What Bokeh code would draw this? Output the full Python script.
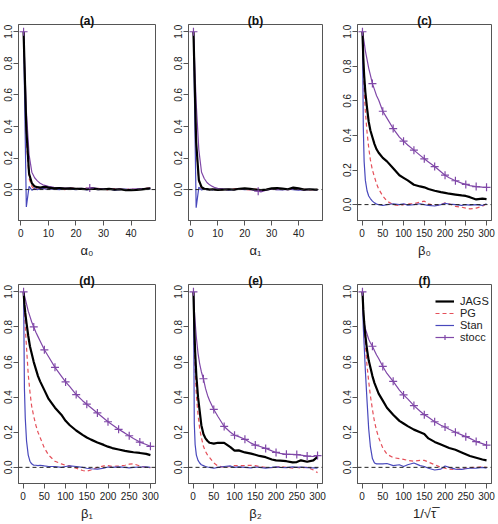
from bokeh.plotting import figure
from bokeh.layouts import column, row
from bokeh.models import Range1d, FixedTicker, Span, Legend, LegendItem, PrintfTickFormatter
from bokeh.embed import file_html
from bokeh.resources import INLINE

# ---- autocorrelation estimates by lag ----
LAGS_AB = [1, 2, 3, 4, 5, 6, 7, 8, 9, 10, 12, 14, 16, 18, 20, 22, 24, 25, 26, 28,
           30, 32, 34, 36, 38, 40, 42, 44, 46, 47]
LAGS_CF = [1, 3, 5, 8, 12, 16, 20, 25, 30, 35, 40, 50, 60, 75, 90, 100, 110, 125,
           140, 150, 160, 175, 190, 200, 210, 225, 240, 250, 260, 275, 290, 300]

a_jags = [1.0, 0.38, 0.10, 0.04, 0.02, 0.015, 0.012, 0.015, 0.017, 0.012, 0.008, 0.01, 0.006, 0.008, 0.004,
          0.005, 0.002, 0.004, 0.006, 0.003, 0.002, 0.004, 0.0, 0.002, -0.003, -0.004, -0.002, 0.001, 0.006, 0.008]
a_pg = [1.0, 0.32, 0.07, 0.02, 0.0, 0.012, 0.008, 0.005, 0.01, 0.004, 0.012, 0.006, 0.0, 0.01, 0.008,
        0.003, 0.009, 0.006, 0.002, 0.007, 0.004, -0.003, 0.006, 0.002, 0.0, 0.004, -0.002, 0.005, 0.01, 0.008]
a_stan = [1.0, -0.11, 0.02, -0.004, 0.006, 0.0, 0.004, 0.008, 0.002, 0.005, 0.003, 0.0, 0.006, 0.002, 0.0,
          0.004, -0.002, 0.003, 0.005, 0.0, 0.002, 0.004, -0.003, 0.0, 0.003, -0.005, 0.0, 0.004, 0.002, 0.005]
a_stocc = [1.0, 0.50, 0.22, 0.11, 0.075, 0.055, 0.04, 0.03, 0.025, 0.02, 0.014, 0.012, 0.01, 0.009, 0.006,
           0.008, 0.004, 0.01, 0.012, 0.006, 0.004, 0.006, 0.002, 0.004, 0.0, 0.003, 0.005, 0.004, 0.008, 0.01]

b_jags = [1.0, 0.30, 0.06, 0.015, 0.005, 0.003, 0.0, 0.002, 0.0, -0.002, 0.0, 0.002, 0.0, 0.005, 0.008,
          0.004, 0.0, -0.002, -0.004, 0.0, 0.008, 0.01, 0.006, 0.002, 0.012, 0.008, 0.0, 0.002, 0.0, 0.0]
b_pg = [1.0, 0.28, 0.05, 0.01, 0.0, 0.004, -0.002, 0.003, 0.0, 0.002, -0.003, 0.0, 0.004, 0.006, 0.0,
        -0.002, 0.003, 0.0, -0.003, 0.002, 0.006, 0.004, 0.0, 0.005, 0.003, 0.0, 0.002, -0.002, 0.0, 0.001]
b_stan = [1.0, -0.115, 0.015, -0.003, 0.004, 0.0, 0.002, -0.002, 0.003, 0.0, 0.002, -0.003, 0.0, 0.002, 0.0,
          0.003, -0.002, 0.0, -0.004, 0.0, 0.003, 0.0, -0.002, 0.002, 0.0, -0.003, 0.0, 0.002, 0.0, -0.002]
b_stocc = [1.0, 0.55, 0.25, 0.11, 0.07, 0.045, 0.03, 0.02, 0.012, 0.008, 0.004, 0.002, 0.0, 0.003, 0.004,
           0.0, -0.006, -0.01, -0.015, -0.004, 0.002, 0.0, 0.003, -0.002, 0.005, 0.002, -0.003, 0.0, 0.0, 0.0]

c_jags = [1.0, 0.85, 0.75, 0.65, 0.56, 0.48, 0.43, 0.39, 0.35, 0.32, 0.30, 0.27, 0.25, 0.21, 0.17, 0.155,
          0.14, 0.115, 0.105, 0.10, 0.09, 0.08, 0.072, 0.068, 0.063, 0.058, 0.053, 0.05, 0.043, 0.03, 0.035, 0.032]
c_pg = [1.0, 0.80, 0.66, 0.54, 0.42, 0.33, 0.26, 0.20, 0.16, 0.12, 0.09, 0.05, 0.02, 0.0, -0.005, 0.0,
        0.005, 0.005, 0.015, 0.02, 0.005, -0.005, 0.0, 0.01, 0.005, -0.01, -0.015, -0.02, -0.025, -0.02, -0.01, 0.005]
c_stan = [1.0, 0.45, 0.25, 0.14, 0.08, 0.05, 0.035, 0.02, 0.01, 0.003, 0.0, -0.005, 0.0, 0.005, 0.0, 0.005,
          -0.003, 0.0, 0.005, 0.0, -0.005, -0.008, 0.0, 0.008, 0.003, 0.0, -0.005, 0.0, -0.003, 0.0, -0.005, 0.005]
c_stocc = [1.0, 0.97, 0.94, 0.89, 0.84, 0.79, 0.75, 0.70, 0.665, 0.63, 0.605, 0.54, 0.50, 0.44, 0.39, 0.367,
           0.345, 0.315, 0.285, 0.265, 0.247, 0.22, 0.19, 0.17, 0.155, 0.138, 0.124, 0.117, 0.11, 0.104, 0.101, 0.10]

d_jags = [1.0, 0.93, 0.88, 0.82, 0.75, 0.69, 0.65, 0.60, 0.56, 0.52, 0.49, 0.44, 0.39, 0.34, 0.30, 0.265,
          0.24, 0.21, 0.185, 0.17, 0.158, 0.142, 0.128, 0.118, 0.11, 0.102, 0.094, 0.09, 0.086, 0.082, 0.077, 0.07]
d_pg = [1.0, 0.9, 0.8, 0.68, 0.53, 0.43, 0.35, 0.29, 0.24, 0.20, 0.17, 0.11, 0.07, 0.035, 0.02, 0.012,
        0.008, -0.005, -0.018, -0.022, -0.015, 0.0, 0.008, 0.01, 0.005, 0.008, 0.012, 0.018, 0.02, 0.008, 0.0, -0.002]
d_stan = [1.0, 0.45, 0.28, 0.15, 0.07, 0.035, 0.02, 0.012, 0.012, 0.01, 0.012, 0.008, 0.005, 0.005, 0.0, 0.005,
          0.008, 0.005, 0.0, -0.005, -0.008, -0.01, -0.005, 0.002, 0.0, 0.003, 0.0, -0.003, 0.0, 0.002, 0.003, 0.0]
d_stocc = [1.0, 0.98, 0.96, 0.93, 0.89, 0.86, 0.83, 0.80, 0.77, 0.745, 0.72, 0.67, 0.63, 0.57, 0.52, 0.487,
           0.46, 0.415, 0.38, 0.36, 0.34, 0.31, 0.28, 0.26, 0.243, 0.217, 0.195, 0.18, 0.165, 0.144, 0.13, 0.12]

e_jags = [1.0, 0.8, 0.66, 0.52, 0.40, 0.32, 0.24, 0.19, 0.165, 0.15, 0.14, 0.135, 0.14, 0.14, 0.115, 0.095,
          0.097, 0.085, 0.078, 0.072, 0.065, 0.058, 0.045, 0.04, 0.038, 0.035, 0.028, 0.03, 0.04, 0.032, 0.04, 0.06]
e_pg = [1.0, 0.7, 0.55, 0.41, 0.30, 0.22, 0.17, 0.12, 0.09, 0.07, 0.055, 0.025, 0.008, 0.0, 0.005, 0.01,
        0.01, 0.01, 0.012, 0.01, 0.005, 0.0, -0.002, 0.0, 0.005, 0.0, -0.005, 0.0, -0.003, 0.0, -0.015, -0.03]
e_stan = [1.0, 0.25, 0.13, 0.07, 0.04, 0.025, 0.015, 0.01, 0.005, 0.002, 0.0, -0.005, 0.0, 0.005, 0.008, 0.0,
          0.003, 0.0, -0.003, 0.002, 0.0, -0.004, 0.0, 0.003, 0.0, -0.002, 0.003, 0.0, 0.002, -0.002, -0.003, -0.004]
e_stocc = [1.0, 0.9, 0.83, 0.74, 0.65, 0.59, 0.545, 0.505, 0.45, 0.41, 0.38, 0.33, 0.29, 0.233, 0.20, 0.183,
           0.175, 0.16, 0.138, 0.127, 0.12, 0.108, 0.094, 0.085, 0.08, 0.074, 0.074, 0.073, 0.07, 0.064, 0.062, 0.067]

f_jags = [1.0, 0.9, 0.83, 0.75, 0.67, 0.61, 0.57, 0.52, 0.48, 0.45, 0.42, 0.38, 0.34, 0.30, 0.265, 0.25,
          0.235, 0.215, 0.20, 0.19, 0.165, 0.145, 0.13, 0.12, 0.11, 0.1, 0.085, 0.075, 0.065, 0.055, 0.045, 0.04]
f_pg = [1.0, 0.88, 0.8, 0.7, 0.58, 0.49, 0.41, 0.33, 0.26, 0.21, 0.17, 0.11, 0.075, 0.055, 0.05, 0.045,
        0.04, 0.035, 0.04, 0.04, 0.03, 0.015, 0.0, -0.005, -0.01, -0.012, -0.008, -0.005, -0.002, 0.0, 0.003, 0.0]
f_stan = [1.0, 0.8, 0.7, 0.55, 0.38, 0.22, 0.12, 0.05, 0.025, 0.02, 0.02, 0.02, 0.022, 0.01, 0.015, 0.005,
          0.015, 0.025, 0.01, 0.005, -0.005, -0.015, -0.01, 0.008, 0.0, -0.01, -0.012, -0.008, -0.005, -0.005, 0.0, -0.005]
f_stocc = [1.0, 0.88, 0.82, 0.79, 0.76, 0.73, 0.71, 0.69, 0.665, 0.64, 0.62, 0.575, 0.535, 0.49, 0.44, 0.413,
           0.39, 0.352, 0.32, 0.30, 0.285, 0.26, 0.24, 0.23, 0.217, 0.20, 0.185, 0.175, 0.165, 0.147, 0.135, 0.127]

TITLES = ["(a)", "(b)", "(c)", "(d)", "(e)", "(f)"]
XLABELS = ["α₀", "α₁", "β₀", "β₁", "β₂", "1/√τ̅"]
SERIES = ["JAGS", "PG", "Stan", "stocc"]
X_TICKS_AB = [0, 10, 20, 30, 40]
X_TICKS_CF = [0, 50, 100, 150, 200, 250, 300]
Y_TICKS = [0.0, 0.2, 0.4, 0.6, 0.8, 1.0]

FONT = "Liberation Sans"
COL_JAGS = "#000000"
COL_PG = "#E5505A"
COL_STAN = "#4848BC"
COL_STOCC = "#8048A8"
BOX = "#555555"


def r_range(lo, hi):
    pad = 0.04 * (hi - lo)
    return Range1d(lo - pad, hi + pad)


def panel(title, xlabel, lags, jags, pg, stan, stocc, xticks, ylim,
          width, height, left, right, top, bottom):
    p = figure(width=width, height=height, output_backend="svg", toolbar_location=None,
               x_range=r_range(lags[0], lags[-1]), y_range=r_range(*ylim),
               min_border_left=left, min_border_right=right,
               min_border_top=top, min_border_bottom=bottom)
    p.title.text = title
    p.title.align = "center"
    p.title.text_font = FONT
    p.title.text_font_size = "12px"
    p.title.text_font_style = "bold"
    p.title.text_color = "#111111"
    p.title.standoff = -6
    p.title.offset = 0
    p.grid.visible = False
    p.outline_line_color = BOX
    p.outline_line_width = 1
    p.background_fill_color = "white"
    p.border_fill_color = "white"

    for ax in (p.xaxis[0], p.yaxis[0]):
        ax.axis_line_color = BOX
        ax.major_tick_line_color = BOX
        ax.minor_tick_line_color = None
        ax.major_tick_in = 0
        ax.major_tick_out = 5
        ax.major_label_text_font = FONT
        ax.major_label_text_font_size = "10px"
        ax.major_label_text_color = "#222222"
    p.xaxis.ticker = FixedTicker(ticks=xticks)
    p.xaxis.major_label_standoff = 3
    p.xaxis.axis_label = xlabel
    p.xaxis.axis_label_text_font = FONT
    p.xaxis.axis_label_text_font_size = "13px"
    p.xaxis.axis_label_text_font_style = "normal"
    p.xaxis.axis_label_text_color = "#222222"
    p.xaxis.axis_label_standoff = 3
    p.yaxis.ticker = FixedTicker(ticks=Y_TICKS)
    p.yaxis.formatter = PrintfTickFormatter(format="%.1f")
    p.yaxis.major_label_orientation = "parallel"
    p.yaxis.major_label_standoff = 1

    p.add_layout(Span(location=0, dimension="width", line_color="#222222",
                      line_width=1, line_dash="4 3"))

    r_pg = p.line(lags, pg, line_color=COL_PG, line_width=1.2, line_dash="4 3")
    r_stan = p.line(lags, stan, line_color=COL_STAN, line_width=1.2)
    r_stocc = p.line(lags, stocc, line_color=COL_STOCC, line_width=1.2)
    r_jags = p.line(lags, jags, line_color=COL_JAGS, line_width=2.2)
    mk = [i for i, L in enumerate(lags) if L == 1 or L % 25 == 0]
    r_mk = p.scatter([lags[i] for i in mk], [stocc[i] for i in mk], marker="cross",
                     size=8, line_color=COL_STOCC, line_width=1.2)
    return p, (r_jags, r_pg, r_stan, r_stocc, r_mk)


YLIM_AB = (-0.15, 1.0)
YLIM_CF = (-0.05, 1.0)

pa, _ = panel(TITLES[0], XLABELS[0], LAGS_AB, a_jags, a_pg, a_stan, a_stocc, X_TICKS_AB, YLIM_AB,
              165, 260, 18, 10, 24, 38)
pb, _ = panel(TITLES[1], XLABELS[1], LAGS_AB, b_jags, b_pg, b_stan, b_stocc, X_TICKS_AB, YLIM_AB,
              165, 260, 23, 8, 24, 38)
pc, _ = panel(TITLES[2], XLABELS[2], LAGS_CF, c_jags, c_pg, c_stan, c_stocc, X_TICKS_CF, YLIM_CF,
              168, 260, 27, 7, 24, 38)
pd, _ = panel(TITLES[3], XLABELS[3], LAGS_CF, d_jags, d_pg, d_stan, d_stocc, X_TICKS_CF, YLIM_CF,
              165, 264, 18, 10, 24, 41)
pe, _ = panel(TITLES[4], XLABELS[4], LAGS_CF, e_jags, e_pg, e_stan, e_stocc, X_TICKS_CF, YLIM_CF,
              165, 264, 23, 8, 24, 41)
pf, rf = panel(TITLES[5], XLABELS[5], LAGS_CF, f_jags, f_pg, f_stan, f_stocc, X_TICKS_CF, YLIM_CF,
               168, 264, 27, 7, 24, 41)

legend = Legend(items=[
    LegendItem(label=SERIES[0], renderers=[rf[0]]),
    LegendItem(label=SERIES[1], renderers=[rf[1]]),
    LegendItem(label=SERIES[2], renderers=[rf[2]]),
    LegendItem(label=SERIES[3], renderers=[rf[3], rf[4]]),
], location=(78, 140), orientation="vertical")
legend.label_text_font = FONT
legend.label_text_font_size = "11px"
legend.label_text_color = "#222222"
legend.label_height = 12
legend.glyph_height = 12
legend.glyph_width = 19
legend.label_standoff = 6
legend.spacing = 0
legend.padding = 2
legend.margin = 0
legend.border_line_color = None
legend.background_fill_alpha = 0
pf.add_layout(legend)

layout = column(row(pa, pb, pc), row(pd, pe, pf))
open("out.html", "w").write(file_html(layout, INLINE))
